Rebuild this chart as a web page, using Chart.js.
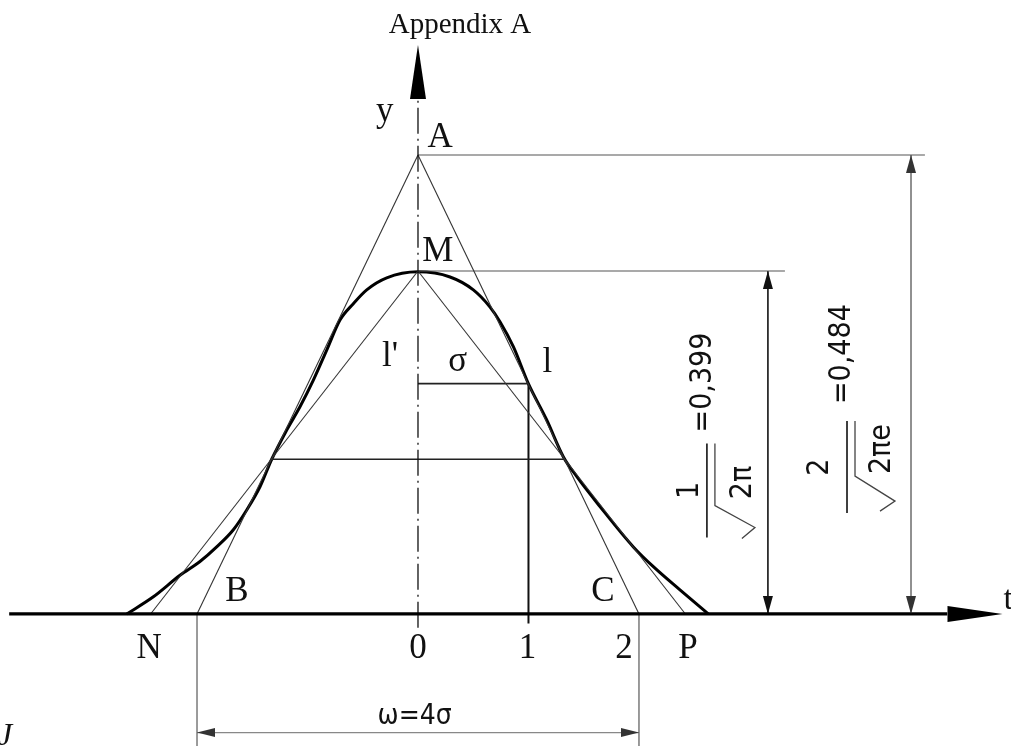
<!DOCTYPE html>
<html>
<head>
<meta charset="utf-8">
<script src="https://cdn.jsdelivr.net/npm/chart.js@4/dist/chart.umd.min.js"></script>
<style>
  html, body { margin: 0; padding: 0; background: #fff; }
  #wrap { width: 1011px; height: 746px; }
</style>
</head>
<body>
<div id="wrap"><canvas id="chart" width="1011" height="746"></canvas></div>
<script>
// normal curve as drawn (x in sigma, y in drawing height units)
const curveX = [-2.636, -2.395, -2.154, -1.973, -1.822, -1.671, -1.550, -1.430, -1.324, -1.188,
  -1.068, -0.947, -0.826, -0.706, -0.585, -0.464, -0.283, 0,
  0.290, 0.501, 0.652, 0.742, 0.863, 0.999, 1.164, 1.315, 1.436, 1.647, 1.949, 2.130, 2.371, 2.627];
const curveY = [0, 0.020, 0.045, 0.061, 0.078, 0.098, 0.121, 0.148, 0.180, 0.214,
  0.241, 0.272, 0.307, 0.342, 0.361, 0.377, 0.391, 0.398,
  0.392, 0.377, 0.357, 0.340, 0.311, 0.268, 0.226, 0.183, 0.160, 0.125, 0.078, 0.055, 0.028, 0];

const heightA = 0.534;        // point A on the y axis
const heightM = 0.399;        // point M (peak)
const tangentFoot = [-2, 2];  // B and C
const chordFoot = [-2.42, 2.42];
const levelLine = { y: 0.180, x: [-1.324, 1.315] };
const sigmaLine = { y: 0.268, x: [0, 1] };
const tickValues = [0, 1, 2];
const tickLabels = ['0', '1', '2'];
const tickLabelX = [0, 0.99, 1.864];
const pointLabels = ['N', 'B', 'C', 'P', 'A', 'M', "l'", 'σ', 'l', 'y'];
const pointLabelX = [-2.434, -1.638, 1.674, 2.443, 0.20, 0.18, -0.253, 0.36, 1.17, -0.30];
const pointLabelY = [-0.040, 0.026, 0.026, -0.040, 0.554, 0.421, 0.299, 0.293, 0.292, 0.584];
const dimX = [3.167, 4.462];          // vertical dimension lines
const extEndX = [3.321, 4.588];       // end of horizontal extension lines
const widthDimY = -0.138;             // omega dimension line
const axisX = [-3.70, 5.29];
const axisY = [-0.016, 0.662];

const xMin = -3.783, xMax = 5.367, yMin = -0.1536, yMax = 0.7143;

function seg(x0, y0, x1, y1) { return [{ x: x0, y: y0 }, { x: x1, y: y1 }]; }
function line(data, color, width, extra) {
  return Object.assign({ data, showLine: true, borderColor: color, borderWidth: width,
    pointRadius: 0, fill: false, clip: false }, extra || {});
}

const datasets = [
  line(seg(axisX[0], 0, axisX[1] - 0.5, 0), '#000', 3.2),
  line(seg(0, axisY[0], 0, axisY[1] - 0.06), '#111', 1.3, { borderDash: [26, 5, 2, 5] }),
  line(seg(tangentFoot[0], 0, 0, heightA), '#333', 1.1),
  line(seg(0, heightA, tangentFoot[1], 0), '#333', 1.1),
  line(seg(chordFoot[0], 0, 0, heightM), '#333', 1.1),
  line(seg(0, heightM, chordFoot[1], 0), '#333', 1.1),
  line(seg(levelLine.x[0], levelLine.y, levelLine.x[1], levelLine.y), '#222', 1.6),
  line(seg(sigmaLine.x[0], sigmaLine.y, sigmaLine.x[1], sigmaLine.y), '#222', 1.6),
  line(seg(sigmaLine.x[1], sigmaLine.y, sigmaLine.x[1], -0.011), '#111', 2),
  line(seg(0, heightA, extEndX[1], heightA), '#555', 1.2),
  line(seg(0, heightM, extEndX[0], heightM), '#555', 1.2),
  line(seg(dimX[0], 0, dimX[0], heightM), '#111', 1.6),
  line(seg(dimX[1], 0, dimX[1], heightA), '#555', 1.3),
  line(seg(tangentFoot[0], 0, tangentFoot[0], yMin), '#666', 1.3),
  line(seg(tangentFoot[1], 0, tangentFoot[1], yMin), '#666', 1.3),
  line(seg(tangentFoot[0], widthDimY, tangentFoot[1], widthDimY), '#888', 1.3),
  line(curveX.map((x, i) => ({ x, y: curveY[i] })), '#000', 3, { cubicInterpolationMode: 'monotone' })
];

function arrow(ctx, tx, ty, dx, dy, len, half, color) {
  const n = Math.hypot(dx, dy); dx /= n; dy /= n;
  const bx = tx - dx * len, by = ty - dy * len;
  ctx.fillStyle = color;
  ctx.beginPath();
  ctx.moveTo(tx, ty);
  ctx.lineTo(bx - dy * half, by + dx * half);
  ctx.lineTo(bx + dy * half, by - dx * half);
  ctx.closePath();
  ctx.fill();
}

function formula(ctx, ax, ay, f) {
  ctx.save();
  ctx.translate(ax, ay);
  ctx.rotate(-Math.PI / 2);
  ctx.fillStyle = '#111';
  ctx.strokeStyle = '#111';
  ctx.lineWidth = 1.6;
  ctx.font = '30px "DejaVu Sans Condensed", "DejaVu Sans", sans-serif';
  ctx.textAlign = 'center';
  ctx.textBaseline = 'middle';
  ctx.fillText(f.num, 0, f.numV);
  ctx.fillText(f.den, f.denU, f.denV);
  ctx.fillText(f.val, f.valU, f.valV);
  ctx.beginPath();
  ctx.moveTo(-f.barHalf, f.barV); ctx.lineTo(f.barHalf, f.barV);
  ctx.stroke();
  ctx.lineWidth = 1.3;
  ctx.strokeStyle = '#444';
  ctx.beginPath();
  ctx.moveTo(f.rad[0][0], f.rad[0][1]);
  for (let i = 1; i < f.rad.length; i++) ctx.lineTo(f.rad[i][0], f.rad[i][1]);
  ctx.stroke();
  ctx.restore();
}

const drawingPlugin = {
  id: 'drawing',
  afterDatasetsDraw(chart) {
    const ctx = chart.ctx;
    const xs = v => chart.scales.x.getPixelForValue(v);
    const ys = v => chart.scales.y.getPixelForValue(v);

    // axis arrows
    arrow(ctx, xs(axisX[1]), ys(0), 1, 0, 55, 8, '#000');
    arrow(ctx, xs(0), ys(axisY[1]), 0, -1, 54, 8, '#000');

    // dimension arrows
    arrow(ctx, xs(dimX[0]), ys(heightM), 0, -1, 18, 5, '#111');
    arrow(ctx, xs(dimX[0]), ys(0), 0, 1, 18, 5, '#111');
    arrow(ctx, xs(dimX[1]), ys(heightA), 0, -1, 18, 5, '#333');
    arrow(ctx, xs(dimX[1]), ys(0), 0, 1, 18, 5, '#333');
    arrow(ctx, xs(tangentFoot[0]), ys(widthDimY), -1, 0, 18, 4.5, '#333');
    arrow(ctx, xs(tangentFoot[1]), ys(widthDimY), 1, 0, 18, 4.5, '#333');

    // labels
    ctx.save();
    ctx.fillStyle = '#111';
    ctx.textAlign = 'center';
    ctx.textBaseline = 'middle';
    ctx.font = '35px "Liberation Serif", "Times New Roman", serif';
    pointLabels.forEach((t, i) => ctx.fillText(t, xs(pointLabelX[i]), ys(pointLabelY[i])));
    tickValues.forEach((v, i) => ctx.fillText(tickLabels[i], xs(tickLabelX[i]), ys(-0.040)));
    ctx.font = '29px "Liberation Serif", "Times New Roman", serif';
    ctx.fillText('Appendix A', xs(0.38), ys(0.685));
    ctx.textAlign = 'left';
    ctx.font = '34px "Liberation Serif", "Times New Roman", serif';
    ctx.fillText('t', xs(5.30), ys(0.016));
    ctx.font = 'italic 32px "Liberation Serif", "Times New Roman", serif';
    ctx.fillText('J', xs(-3.80), ys(-0.143));
    ctx.textAlign = 'center';
    ctx.font = '28px "DejaVu Sans Condensed", "DejaVu Sans", sans-serif';
    ctx.fillText('ω=4σ', xs(-0.03), ys(widthDimY + 0.019));
    ctx.restore();

    // rotated formulas next to the dimension lines
    formula(ctx, xs(dimX[0]), ys(heightM * 0.36), {
      num: '1', numV: -78, den: '2π', denU: 8, denV: -25,
      val: '=0,399', valU: 108, valV: -65, barV: -61, barHalf: 47,
      rad: [[-48, -26], [-37, -13], [-15, -53], [47, -53]]
    });
    formula(ctx, xs(dimX[1]), ys(heightA * 0.32), {
      num: '2', numV: -91, den: '2πe', denU: 18, denV: -29,
      val: '=0,484', valU: 113, valV: -69, barV: -64, barHalf: 46,
      rad: [[-44, -31], [-34, -16], [-9, -56], [46, -56]]
    });
  }
};

new Chart(document.getElementById('chart').getContext('2d'), {
  type: 'scatter',
  data: { datasets },
  options: {
    responsive: false,
    animation: false,
    layout: { padding: 0 },
    plugins: { legend: { display: false }, tooltip: { enabled: false } },
    scales: {
      x: { type: 'linear', min: xMin, max: xMax, display: false },
      y: { type: 'linear', min: yMin, max: yMax, display: false }
    }
  },
  plugins: [drawingPlugin]
});
</script>
</body>
</html>
